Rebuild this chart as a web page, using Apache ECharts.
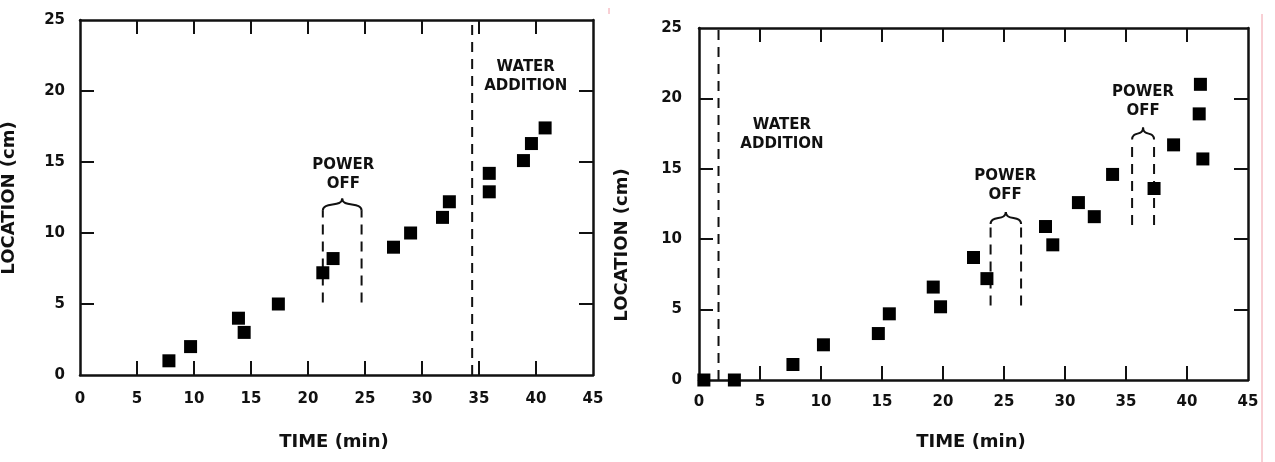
<!DOCTYPE html>
<html>
<head>
<meta charset="utf-8">
<script src="https://cdn.jsdelivr.net/npm/echarts@6/dist/echarts.min.js"></script>
<style>
  html, body { margin: 0; padding: 0; background: #fff; }
  #main { width: 1275px; height: 462px; }
</style>
</head>
<body>
<div id="main"></div>
<script>
var chart = echarts.init(document.getElementById("main"));

// left panel (water added after ~34 min)
var leftTime = [7.8, 9.7, 13.9, 14.4, 17.4, 21.3, 22.2, 27.5, 29.0, 31.8, 32.4, 35.9, 35.9, 38.9, 39.6, 40.8];
var leftLoc  = [1.0, 2.0, 4.0, 3.0, 5.0, 7.2, 8.2, 9.0, 10.0, 11.1, 12.2, 14.2, 12.9, 15.1, 16.3, 17.4];

// right panel (water added at start)
var rightTime = [0.4, 2.9, 7.7, 10.2, 14.7, 15.6, 19.2, 19.8, 22.5, 23.6, 28.4, 29.0, 31.1, 32.4, 33.9, 37.3, 38.9, 41.1, 41.0, 41.3];
var rightLoc  = [0, 0, 1.1, 2.5, 3.3, 4.7, 6.6, 5.2, 8.7, 7.2, 10.9, 9.6, 12.6, 11.6, 14.6, 13.6, 16.7, 21.0, 18.9, 15.7];

// dashed markers: [time, from, to]
var leftDashes  = [[34.4, 0, 24.9], [21.3, 5.1, 11.6], [24.7, 5.1, 11.6]];
var rightDashes = [[1.6, 0, 25], [23.9, 5.3, 11.1], [26.4, 5.3, 11.1], [35.5, 11.0, 16.9], [37.3, 11.0, 16.9]];

// braces: [from, to, location]
var leftBraces  = [[21.3, 24.7, 12.0]];
var rightBraces = [[23.9, 26.4, 11.5], [35.5, 37.3, 17.5]];

// notes: [time, location, text]
var leftNotes  = [[23.1, 14.1, "POWER\nOFF"], [39.1, 21.0, "WATER\nADDITION"]];
var rightNotes = [[6.8, 17.45, "WATER\nADDITION"], [25.1, 13.8, "POWER\nOFF"], [36.4, 19.8, "POWER\nOFF"]];

var xTicks = [0, 5, 10, 15, 20, 25, 30, 35, 40, 45];
var yTicks = [0, 5, 10, 15, 20, 25];
var innerX = [5, 10, 15, 20, 25, 30, 35, 40];
var innerY = [5, 10, 15, 20];

var font = "DejaVu Sans";
var ink = "#111";

function xAxis(grid, top) {
  return {
    type: "value", gridIndex: grid, position: top ? "top" : "bottom",
    min: 0, max: 45, interval: 5,
    splitLine: { show: false },
    axisLine: { show: true, onZero: false, lineStyle: { color: ink, width: 2.5 } },
    axisTick: { show: true, inside: true, length: 14, customValues: innerX, lineStyle: { color: ink, width: 2 } },
    axisLabel: { show: !top, customValues: xTicks, margin: grid === 0 ? 17 : 15, color: ink, fontFamily: font, fontWeight: "bold", fontSize: 15 }
  };
}

function yAxis(grid, right) {
  return {
    type: "value", gridIndex: grid, position: right ? "right" : "left",
    min: 0, max: 25, interval: 5,
    splitLine: { show: false },
    axisLine: { show: true, onZero: false, lineStyle: { color: ink, width: 2.5 } },
    axisTick: { show: true, inside: true, length: 14, customValues: innerY, lineStyle: { color: ink, width: 2 } },
    axisLabel: { show: !right, customValues: yTicks, margin: grid === 0 ? 15 : 17, color: ink, fontFamily: font, fontWeight: "bold", fontSize: 15 }
  };
}

function points(times, locs, ax) {
  return {
    type: "scatter", xAxisIndex: ax, yAxisIndex: ax, z: 5,
    symbol: "rect", symbolSize: 13,
    itemStyle: { color: "#000", opacity: 1 },
    data: times.map(function (t, i) { return [t, locs[i]]; })
  };
}

function dashes(list, ax) {
  return list.map(function (d) {
    return {
      type: "line", xAxisIndex: ax, yAxisIndex: ax, symbol: "none", z: 3,
      lineStyle: { color: ink, width: 2, type: [10, 7] },
      data: [[d[0], d[1]], [d[0], d[2]]]
    };
  });
}

function braces(list, ax) {
  return {
    type: "custom", xAxisIndex: ax, yAxisIndex: ax, z: 3,
    data: list,
    renderItem: function (params, api) {
      var a = api.coord([api.value(0), api.value(2)]);
      var b = api.coord([api.value(1), api.value(2)]);
      var m = (a[0] + b[0]) / 2, y = a[1];
      var st = { stroke: ink, lineWidth: 2, fill: null };
      return {
        type: "group",
        children: [
          { type: "bezierCurve", shape: { x1: a[0], y1: y + 6, cpx1: a[0], cpy1: y - 3, cpx2: m, cpy2: y + 3, x2: m, y2: y - 6 }, style: st },
          { type: "bezierCurve", shape: { x1: b[0], y1: y + 6, cpx1: b[0], cpy1: y - 3, cpx2: m, cpy2: y + 3, x2: m, y2: y - 6 }, style: st }
        ]
      };
    }
  };
}

function notes(list, ax, size) {
  return {
    type: "scatter", xAxisIndex: ax, yAxisIndex: ax, symbolSize: 0, z: 4,
    silent: true,
    itemStyle: { opacity: 1 },
    label: { show: true, position: "inside", formatter: "{b}", color: ink, opacity: 1, fontFamily: font, fontWeight: "bold", fontSize: size, lineHeight: 19, align: "center" },
    data: list.map(function (n) { return { name: n[2], value: [n[0], n[1]] }; })
  };
}

function title(text, x, y, rot) {
  return {
    type: "text", x: x, y: y, rotation: rot ? Math.PI / 2 : 0,
    style: { text: text, fill: ink, font: "bold 18px '" + font + "'", align: "center", verticalAlign: "middle" }
  };
}

option = {
  backgroundColor: "#fff",
  animation: false,
  grid: [
    { left: 80, top: 20, width: 513, height: 355 },
    { left: 699, top: 28, width: 549, height: 352 }
  ],
  xAxis: [xAxis(0, false), xAxis(0, true), xAxis(1, false), xAxis(1, true)],
  yAxis: [yAxis(0, false), yAxis(0, true), yAxis(1, false), yAxis(1, true)],
  series: [].concat(
    dashes(leftDashes, 0),
    dashes(rightDashes, 2),
    [braces(leftBraces, 0), braces(rightBraces, 2)],
    [notes(leftNotes, 0, 15), notes(rightNotes, 2, 15)],
    [points(leftTime, leftLoc, 0), points(rightTime, rightLoc, 2)]
  ),
  graphic: [
    title("LOCATION (cm)", 9, 198, true),
    title("LOCATION (cm)", 622, 245, true),
    title("TIME (min)", 334, 442, false),
    title("TIME (min)", 971, 442, false),
    { type: "line", shape: { x1: 1262, y1: 14, x2: 1262, y2: 462 }, style: { stroke: "#f2a0aa", lineWidth: 1 } },
    { type: "line", shape: { x1: 609, y1: 8, x2: 609, y2: 14 }, style: { stroke: "#f2a0aa", lineWidth: 1 } }
  ]
};

chart.setOption(option);
</script>
</body>
</html>
